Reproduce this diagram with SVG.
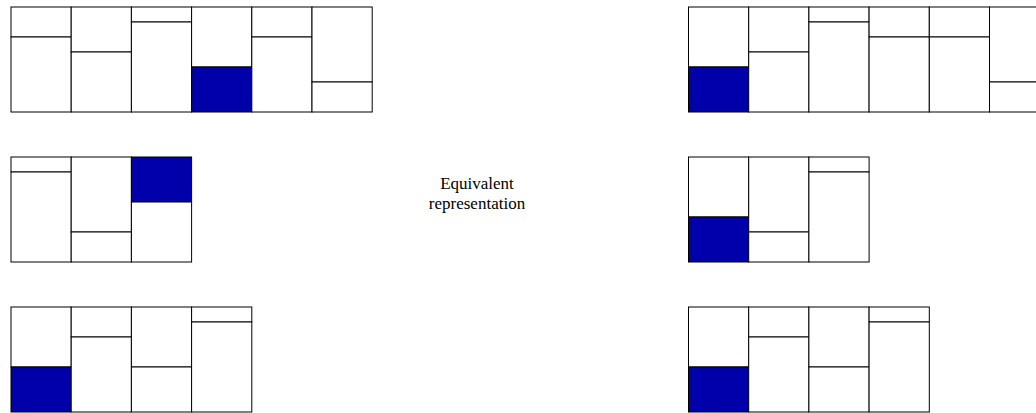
<svg xmlns="http://www.w3.org/2000/svg" width="1036" height="413" viewBox="0 0 1036 413">
<style>
.c{fill:#ffffff;stroke:#000000;stroke-width:1}
.b{fill:#0000aa;stroke:#000000;stroke-width:1}
.t{font-size:17px;fill:#000;text-anchor:middle}
</style>
<rect width="1036" height="413" fill="#ffffff"/>
<g id="top-left">
<rect class="c" x="11" y="7" width="60.2" height="30"/><rect class="c" x="11" y="37" width="60.2" height="75"/>
<rect class="c" x="71.2" y="7" width="60.2" height="45"/><rect class="c" x="71.2" y="52" width="60.2" height="60"/>
<rect class="c" x="131.4" y="7" width="60.2" height="15"/><rect class="c" x="131.4" y="22" width="60.2" height="90"/>
<rect class="c" x="191.6" y="7" width="60.2" height="60"/><rect class="b" x="191.6" y="67" width="60.2" height="45"/>
<rect class="c" x="251.8" y="7" width="60.2" height="30"/><rect class="c" x="251.8" y="37" width="60.2" height="75"/>
<rect class="c" x="312" y="7" width="60.2" height="75"/><rect class="c" x="312" y="82" width="60.2" height="30"/>
</g>
<g id="top-right">
<rect class="c" x="688.5" y="7" width="60.2" height="60"/><rect class="b" x="688.5" y="67" width="60.2" height="45"/>
<rect class="c" x="748.7" y="7" width="60.2" height="45"/><rect class="c" x="748.7" y="52" width="60.2" height="60"/>
<rect class="c" x="808.9" y="7" width="60.2" height="15"/><rect class="c" x="808.9" y="22" width="60.2" height="90"/>
<rect class="c" x="869.1" y="7" width="60.2" height="30"/><rect class="c" x="869.1" y="37" width="60.2" height="75"/>
<rect class="c" x="929.3" y="7" width="60.2" height="30"/><rect class="c" x="929.3" y="37" width="60.2" height="75"/>
<rect class="c" x="989.5" y="7" width="60.2" height="75"/><rect class="c" x="989.5" y="82" width="60.2" height="30"/>
</g>
<g id="middle-left">
<rect class="c" x="11" y="157" width="60.2" height="15"/><rect class="c" x="11" y="172" width="60.2" height="90"/>
<rect class="c" x="71.2" y="157" width="60.2" height="75"/><rect class="c" x="71.2" y="232" width="60.2" height="30"/>
<rect class="b" x="131.4" y="157" width="60.2" height="45"/><rect class="c" x="131.4" y="202" width="60.2" height="60"/>
</g>
<g id="middle-right">
<rect class="c" x="688.5" y="157" width="60.2" height="60"/><rect class="b" x="688.5" y="217" width="60.2" height="45"/>
<rect class="c" x="748.7" y="157" width="60.2" height="75"/><rect class="c" x="748.7" y="232" width="60.2" height="30"/>
<rect class="c" x="808.9" y="157" width="60.2" height="15"/><rect class="c" x="808.9" y="172" width="60.2" height="90"/>
</g>
<g id="bottom-left">
<rect class="c" x="11" y="307" width="60.2" height="60"/><rect class="b" x="11" y="367" width="60.2" height="45"/>
<rect class="c" x="71.2" y="307" width="60.2" height="30"/><rect class="c" x="71.2" y="337" width="60.2" height="75"/>
<rect class="c" x="131.4" y="307" width="60.2" height="60"/><rect class="c" x="131.4" y="367" width="60.2" height="45"/>
<rect class="c" x="191.6" y="307" width="60.2" height="15"/><rect class="c" x="191.6" y="322" width="60.2" height="90"/>
</g>
<g id="bottom-right">
<rect class="c" x="688.5" y="307" width="60.2" height="60"/><rect class="b" x="688.5" y="367" width="60.2" height="45"/>
<rect class="c" x="748.7" y="307" width="60.2" height="30"/><rect class="c" x="748.7" y="337" width="60.2" height="75"/>
<rect class="c" x="808.9" y="307" width="60.2" height="60"/><rect class="c" x="808.9" y="367" width="60.2" height="45"/>
<rect class="c" x="869.1" y="307" width="60.2" height="15"/><rect class="c" x="869.1" y="322" width="60.2" height="90"/>
</g>
<g id="label" font-family="'Liberation Serif', 'DejaVu Serif', serif">
<text class="t" x="477" y="189">Equivalent</text>
<text class="t" x="477" y="209">representation</text>
</g>
</svg>
